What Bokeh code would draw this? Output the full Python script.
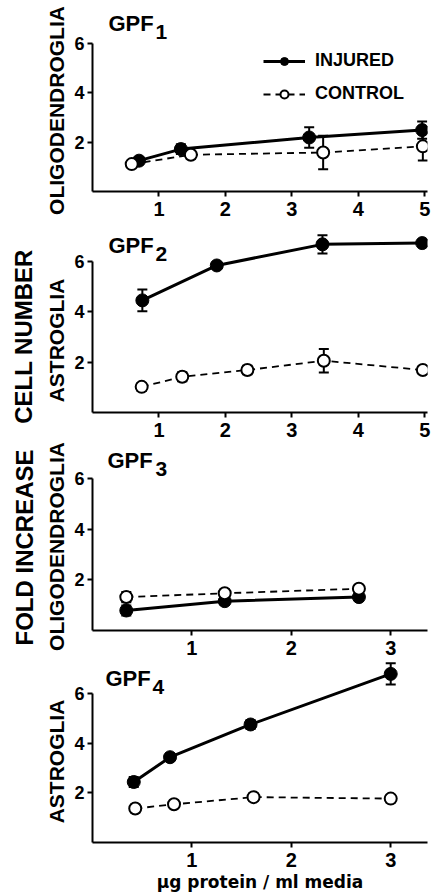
import numpy as np
from bokeh.plotting import figure
from bokeh.models import (Range1d, FixedTicker, Label, Legend, LegendItem,
                          Whisker, TeeHead, ColumnDataSource)
from bokeh.layouts import column, row
from bokeh.embed import file_html
from bokeh.resources import INLINE

# ---------------- data ----------------
gpf1_inj_x = [0.70, 1.33, 3.26, 4.96]
gpf1_inj_y = [1.25, 1.72, 2.19, 2.49]
gpf1_inj_e = [0.12, 0.20, 0.42, 0.35]
gpf1_ctl_x = [0.59, 1.48, 3.47, 4.97]
gpf1_ctl_y = [1.11, 1.49, 1.58, 1.83]
gpf1_ctl_e = [0.10, 0.15, 0.68, 0.57]

gpf2_inj_x = [0.75, 1.87, 3.46, 4.96]
gpf2_inj_y = [4.46, 5.85, 6.69, 6.74]
gpf2_inj_e = [0.43, 0.12, 0.36, 0.12]
gpf2_ctl_x = [0.74, 1.35, 2.33, 3.48, 4.97]
gpf2_ctl_y = [1.02, 1.42, 1.69, 2.06, 1.69]
gpf2_ctl_e = [0.15, 0.18, 0.17, 0.47, 0.15]

gpf3_inj_x = [0.34, 1.33, 2.68]
gpf3_inj_y = [0.79, 1.16, 1.32]
gpf3_inj_e = [0.20, 0.15, 0.15]
gpf3_ctl_x = [0.34, 1.33, 2.68]
gpf3_ctl_y = [1.32, 1.47, 1.65]
gpf3_ctl_e = [0.20, 0.15, 0.15]

gpf4_inj_x = [0.415, 0.78, 1.59, 3.00]
gpf4_inj_y = [2.44, 3.44, 4.76, 6.80]
gpf4_inj_e = [0.20, 0.15, 0.18, 0.43]
gpf4_ctl_x = [0.43, 0.82, 1.62, 3.00]
gpf4_ctl_y = [1.37, 1.54, 1.83, 1.77]
gpf4_ctl_e = [0.15, 0.15, 0.15, 0.15]

x_ticks_a = [1, 2, 3, 4, 5]
x_ticks_b = [1, 2, 3]
y_ticks = [2, 4, 6]

titles = ["GPF", "GPF", "GPF", "GPF"]
subs = ["1", "2", "3", "4"]
cell_labels = ["OLIGODENDROGLIA", "ASTROGLIA", "OLIGODENDROGLIA", "ASTROGLIA"]
series_names = ["INJURED", "CONTROL"]
x_title = "\u03bcg protein / ml media"
big_label_top = "CELL NUMBER"
big_label_bottom = "FOLD INCREASE"

FONT = "Liberation Sans"
W = 431
H = 896
LABEL_W = 70          # width of the strip holding the rotated labels
PW = W - LABEL_W      # width of each panel figure
PLEFT = 22
RIGHT = 4
FRAME_W = PW - PLEFT - RIGHT

# panel geometry: height, border top, border bottom, x end, y end
geo = [
    dict(h=222, bt=8, bb=31, xe=5.04, ye=7.42, ticks=x_ticks_a),
    dict(h=222, bt=4, bb=32, xe=5.04, ye=7.40, ticks=x_ticks_a),
    dict(h=217, bt=4, bb=31, xe=3.37, ye=7.19, ticks=x_ticks_b),
    dict(h=235, bt=0, bb=54, xe=3.37, ye=7.30, ticks=x_ticks_b),
]
data = [
    (gpf1_inj_x, gpf1_inj_y, gpf1_inj_e, gpf1_ctl_x, gpf1_ctl_y, gpf1_ctl_e),
    (gpf2_inj_x, gpf2_inj_y, gpf2_inj_e, gpf2_ctl_x, gpf2_ctl_y, gpf2_ctl_e),
    (gpf3_inj_x, gpf3_inj_y, gpf3_inj_e, gpf3_ctl_x, gpf3_ctl_y, gpf3_ctl_e),
    (gpf4_inj_x, gpf4_inj_y, gpf4_inj_e, gpf4_ctl_x, gpf4_ctl_y, gpf4_ctl_e),
]
# title placement (pixels from frame left, sub offset, pixels above y=0 baseline)
title_px = [(16, 63, 168), (16, 63, 167), (15, 63, 170), (13, 60, 164)]

# ---------------- left strip with the rotated labels ----------------
lab = figure(width=LABEL_W, height=H, output_backend="svg", toolbar_location=None,
             x_range=Range1d(0, LABEL_W), y_range=Range1d(0, H),
             min_border=0)
lab.axis.visible = False
lab.grid.visible = False
lab.outline_line_color = None
# (x centre, y centre from page top, text, size)
strip_texts = [
    (55.5, 110, cell_labels[0], "21px"),
    (55.5, 340, cell_labels[1], "21px"),
    (55.5, 546, cell_labels[2], "21px"),
    (55.5, 761, cell_labels[3], "21px"),
    (22.5, 336, big_label_top, "24px"),
    (24.0, 547, big_label_bottom, "24px"),
]
for sx_, sy_, t, fs in strip_texts:
    lab.add_layout(Label(x=sx_, y=H - sy_, text=t, angle=np.pi / 2,
                         text_font=FONT, text_font_size=fs, text_font_style="bold",
                         text_align="center", text_baseline="middle",
                         text_color="black"))


def whisker(p, xs, ys, es):
    src = ColumnDataSource(dict(x=xs,
                                lower=[y - e for y, e in zip(ys, es)],
                                upper=[y + e for y, e in zip(ys, es)]))
    w = Whisker(source=src, base="x", lower="lower", upper="upper",
                dimension="height", line_color="black", line_width=2,
                upper_head=TeeHead(size=10, line_width=2, line_color="black"),
                lower_head=TeeHead(size=10, line_width=2, line_color="black"))
    p.add_layout(w)


figs = []
for i, g in enumerate(geo):
    fh = g["h"] - g["bt"] - g["bb"]
    ppu_y = fh / g["ye"]
    ppu_x = FRAME_W / g["xe"]
    p = figure(width=PW, height=g["h"], output_backend="svg", toolbar_location=None,
               x_range=Range1d(0, g["xe"]), y_range=Range1d(0, g["ye"]),
               min_border_left=PLEFT, min_border_right=RIGHT,
               min_border_top=g["bt"], min_border_bottom=g["bb"])
    p.outline_line_color = None
    p.grid.visible = False
    p.background_fill_color = "white"
    p.border_fill_color = "white"

    xa = p.xaxis[0]
    xa.ticker = FixedTicker(ticks=g["ticks"])
    xa.axis_line_width = 2
    xa.major_tick_line_width = 2
    xa.major_tick_out = 5
    xa.major_tick_in = 0
    xa.minor_tick_out = 0
    xa.minor_tick_in = 0
    xa.major_label_standoff = 5
    xa.major_label_text_font = FONT
    xa.major_label_text_font_size = "20px"
    xa.major_label_text_font_style = "bold"
    xa.major_label_text_color = "black"

    ya = p.yaxis[0]
    ya.ticker = FixedTicker(ticks=y_ticks)
    ya.bounds = (0, 6)
    ya.axis_line_width = 2
    ya.major_tick_line_width = 2
    ya.major_tick_out = 5
    ya.major_tick_in = 0
    ya.minor_tick_out = 0
    ya.minor_tick_in = 0
    ya.major_label_standoff = 3
    ya.major_label_text_font = FONT
    ya.major_label_text_font_size = "18px"
    ya.major_label_text_font_style = "bold"
    ya.major_label_text_color = "black"

    if i == 3:
        xa.axis_label = x_title
        xa.axis_label_text_font = "DejaVu Sans"
        xa.axis_label_text_font_size = "17px"
        xa.axis_label_text_font_style = "bold"
        xa.axis_label_text_color = "black"
        xa.axis_label_standoff = 2

    ix, iy, ie, cx, cy, ce = data[i]
    whisker(p, ix, iy, ie)
    whisker(p, cx, cy, ce)
    l1 = p.line(ix, iy, line_color="black", line_width=3)
    m1 = p.scatter(ix, iy, marker="circle", size=13, fill_color="black", line_color="black")
    l2 = p.line(cx, cy, line_color="black", line_width=1.8, line_dash="7 5")
    m2 = p.scatter(cx, cy, marker="circle", size=12, fill_color="white",
                   line_color="black", line_width=2)

    # panel title with subscript
    tx, sx, base = title_px[i]
    p.add_layout(Label(x=tx / ppu_x, y=base / ppu_y, text=titles[i],
                       text_font=FONT, text_font_size="22px", text_font_style="bold",
                       text_baseline="alphabetic", text_align="left", text_color="black"))
    p.add_layout(Label(x=sx / ppu_x, y=(base - 1) / ppu_y, text=subs[i],
                       text_font=FONT, text_font_size="21px", text_font_style="bold",
                       text_baseline="top", text_align="left", text_color="black"))

    if i == 0:
        leg = Legend(items=[LegendItem(label=series_names[0], renderers=[l1, m1]),
                            LegendItem(label=series_names[1], renderers=[l2, m2])],
                     location=(171, 87), orientation="vertical",
                     glyph_width=42, glyph_height=20, label_height=20,
                     label_standoff=10, spacing=12, padding=0, margin=0,
                     border_line_color=None, background_fill_alpha=0,
                     label_text_font=FONT, label_text_font_size="18px",
                     label_text_font_style="bold", label_text_color="black")
        p.add_layout(leg)
    figs.append(p)

layout = row(lab, column(*figs, spacing=0), spacing=0)
open("out.html", "w").write(file_html(layout, INLINE))
